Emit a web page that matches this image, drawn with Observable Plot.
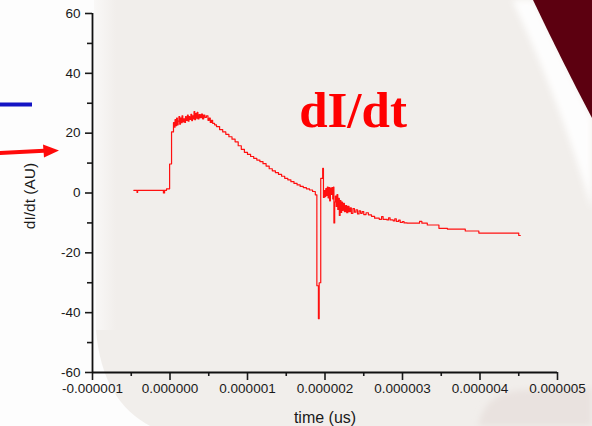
<!DOCTYPE html>
<html>
<head>
<meta charset="utf-8">
<script src="https://cdn.jsdelivr.net/npm/d3@7"></script>
<script src="https://cdn.jsdelivr.net/npm/@observablehq/plot@0.6"></script>
<style>
  html, body { margin: 0; padding: 0; background: #ffffff; }
  #wrap { position: relative; width: 592px; height: 426px; overflow: hidden; }
  #bg, #chart { position: absolute; left: 0; top: 0; }
  #chart svg { background: transparent; }
</style>
</head>
<body>
<div id="wrap">
  <svg id="bg" width="592" height="426" viewBox="0 0 592 426">
    <defs>
      <linearGradient id="lg" x1="0" x2="1" y1="0" y2="0">
        <stop offset="0" stop-color="#ffffff"/>
        <stop offset="1" stop-color="#f1eeeb"/>
      </linearGradient>
      <filter id="blur"><feGaussianBlur stdDeviation="3"/></filter>
    </defs>
    <rect width="592" height="426" fill="#fdfdfd"/>
    <path d="M94,0 L592,0 L592,426 L150,426 C120,410 100,380 96,330 L94,0 Z" fill="#f1eeeb"/>
    <rect x="94" y="0" width="22" height="330" fill="url(#lg)" opacity="0.6"/>
    <path d="M478,426 C484,402 496,392 522,390 L592,388 L592,426 Z" fill="#e9e2df" filter="url(#blur)"/>
    <path d="M512,0 L534,0 L592,118 L592,210 C572,140 542,62 512,0 Z" fill="#ffffff" opacity="0.9" filter="url(#blur)"/>
    <path d="M533,0 L592,0 L592,118 C572,80 552,40 533,0 Z" fill="#5c0010"/>
    <rect x="0" y="102.5" width="32" height="4" fill="#1414c4"/>
    <path d="M0,151 L44,148.8 L44,152.8 L0,155 Z" fill="#ff0a0a"/>
    <path d="M43,144.5 L59,150.5 L44,157.5 Z" fill="#ff0a0a"/>
  </svg>
  <div id="chart"></div>
</div>
<script>
// time in microseconds (plotted as seconds), dI/dt in arbitrary units
const timeUs = [
  -0.467, -0.43, -0.425, -0.418, -0.09, -0.085, -0.08, -0.075, -0.07, -0.045,
  -0.005, 0.02, 0.045, 0.055, 0.065, 0.075, 0.085, 0.095, 0.105, 0.115,
  0.125, 0.135, 0.145, 0.155, 0.165, 0.175, 0.19, 0.2, 0.21, 0.225,
  0.235, 0.245, 0.255, 0.27, 0.28, 0.29, 0.3, 0.31, 0.32, 0.33,
  0.34, 0.35, 0.36, 0.375, 0.39, 0.405, 0.42, 0.435, 0.45, 0.47,
  0.49, 0.505, 0.52, 0.535, 0.55, 0.575, 0.6, 0.64, 0.68, 0.72,
  0.76, 0.8, 0.84, 0.88, 0.92, 0.96, 1.0, 1.04, 1.08, 1.12,
  1.16, 1.2, 1.24, 1.28, 1.32, 1.36, 1.4, 1.44, 1.48, 1.52,
  1.56, 1.6, 1.64, 1.68, 1.72, 1.76, 1.8, 1.84, 1.875, 1.895,
  1.915, 1.925, 1.945, 1.97, 1.98, 1.99, 2.0, 2.01, 2.02, 2.03,
  2.04, 2.05, 2.06, 2.07, 2.08, 2.09, 2.1, 2.11, 2.115, 2.125,
  2.135, 2.145, 2.155, 2.165, 2.175, 2.185, 2.195, 2.205, 2.215, 2.225,
  2.235, 2.25, 2.265, 2.28, 2.295, 2.31, 2.325, 2.34, 2.36, 2.38,
  2.4, 2.42, 2.44, 2.46, 2.48, 2.5, 2.53, 2.56, 2.6, 2.64,
  2.7, 2.73, 2.75, 2.8, 2.82, 2.84, 2.88, 2.9, 2.92, 2.95,
  2.97, 3.0, 3.02, 3.06, 3.2, 3.22, 3.25, 3.32, 3.47, 3.58,
  3.81, 3.985, 4.5, 4.52
];
const dIdt = [
  0.9, 0.9, 0.2, 0.9, 0.9, 0.0, 0.9, 0.0, 0.9, 1.4,
  9.7, 20.4, 23.5, 22, 24.5, 22.5, 25, 22.8, 24, 25.5,
  23, 25, 23.5, 25.8, 23.8, 24.8, 23.6, 25.5, 24.3, 26,
  24, 25.5, 24.6, 26.3, 24.2, 25.8, 24.8, 27.2, 24.5, 26.5,
  25, 27, 24.8, 26.2, 25.2, 26.4, 24.8, 26, 25.3, 25.8,
  24.3, 25, 23.6, 24.3, 23.3, 22.8, 22.2, 21.2, 20.4, 19.6,
  18.8, 18, 17.1, 15.8, 14.6, 13.6, 12.9, 12.2, 11.6, 11,
  10.5, 9.8, 9.0, 8.1, 7.4, 6.8, 6.2, 5.6, 4.9, 4.4,
  3.8, 3.2, 2.7, 2.2, 1.8, 1.4, 1.0, 0.5, -0.6, -31,
  -42, -30, 4.9, 8.2, -1.5, 0.8, -1.2, 1.5, -0.8, 2.0,
  -1.6, 1.8, -2.6, 1.6, -0.5, 1.8, -2.0, 2.0, -10, -3,
  -1, -4.5, -0.5, -5.5, -1.8, -7.5, -2.5, -6.5, -3, -5.8,
  -3.5, -6.2, -4.2, -6.6, -4.5, -6.2, -5, -6.8, -5.2, -6.4,
  -5.6, -7, -6, -6.8, -6.2, -7.2, -6.6, -7.3, -7.8, -8.4,
  -8.8, -7.9, -8.8, -9, -8.3, -9, -9.3, -8.6, -9.5, -9.1,
  -9.8, -9.6, -10, -10.1, -10.1, -9.5, -10.1, -10.7, -11.8, -12.1,
  -12.7, -13.4, -14.2, -14.2
];
const xTicks = [-0.000001, 0, 0.000001, 0.000002, 0.000003, 0.000004, 0.000005];
const xMinorTicks = [-0.0000005, 0.0000005, 0.0000015, 0.0000025, 0.0000035, 0.0000045];
const yTicks = [-60, -40, -20, 0, 20, 40, 60];
const yMinorTicks = [-50, -30, -10, 10, 30, 50];

const data = timeUs.map((t, i) => ({t: t * 1e-6, v: dIdt[i]}));
const fmtX = d => d.toFixed(6);
const fmtY = d => String(d);

const chart = Plot.plot({
  width: 592,
  height: 426,
  marginLeft: 92,
  marginRight: 35,
  marginTop: 13,
  marginBottom: 54,
  style: {background: "transparent", fontFamily: "'Liberation Sans', Arial, sans-serif", fontSize: "13px", color: "#1a1a1a"},
  x: {domain: [-0.000001, 0.000005]},
  y: {domain: [-60, 60]},
  marks: [
    Plot.axisX({ticks: xTicks, tickSize: 8, tickPadding: 3, strokeWidth: 1.6, label: null, fontSize: 13.5, tickFormat: fmtX}),
    Plot.axisX({ticks: xMinorTicks, tickSize: 4, strokeWidth: 1.6, text: null, label: null}),
    Plot.axisY({ticks: yTicks, tickSize: 7, tickPadding: 5, strokeWidth: 1.6, label: null, fontSize: 13.5, tickFormat: fmtY}),
    Plot.axisY({ticks: yMinorTicks, tickSize: 5, strokeWidth: 1.6, text: null, label: null}),
    Plot.ruleX([-0.000001], {stroke: "#111", strokeWidth: 1.8}),
    Plot.ruleY([-60], {stroke: "#111", strokeWidth: 1.8}),
    Plot.line(data, {x: "t", y: "v", curve: "step-after", stroke: "#ff1010", strokeWidth: 1.2}),
    Plot.text(["dI/dt (AU)"], {frameAnchor: "left", textAnchor: "middle", dx: -62, dy: 3, rotate: -90, fontSize: 15.5, fill: "#1a1a1a"}),
    Plot.text(["time (us)"], {frameAnchor: "bottom", dy: 50, fontSize: 16, fill: "#1a1a1a"}),
    Plot.text(["dI/dt"], {frameAnchor: "top", dx: 28, dy: 77, fontSize: 51, fontWeight: "bold",
      fontFamily: "'Liberation Serif', 'DejaVu Serif', serif", fill: "#ff0000"})
  ]
});
document.getElementById("chart").appendChild(chart);
</script>
</body>
</html>
